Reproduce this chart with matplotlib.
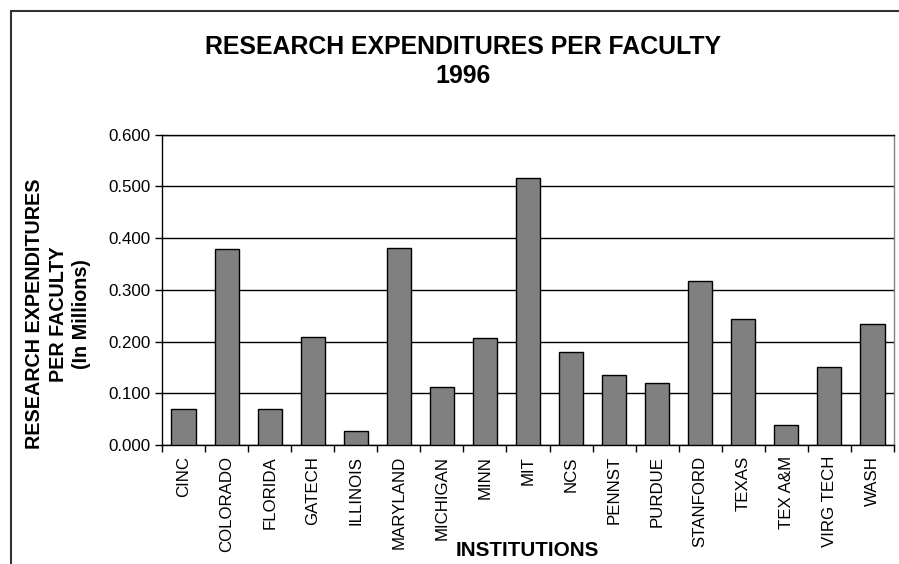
"""Research expenditures per faculty, 1996 (bar chart)."""

import matplotlib

matplotlib.use("Agg")
import matplotlib.pyplot as plt  # noqa: E402
import numpy as np  # noqa: E402
from matplotlib.patches import Rectangle  # noqa: E402

INSTITUTIONS = [
    "CINC", "COLORADO", "FLORIDA", "GATECH", "ILLINOIS", "MARYLAND",
    "MICHIGAN", "MINN", "MIT", "NCS", "PENNST", "PURDUE", "STANFORD",
    "TEXAS", "TEX A&M", "VIRG TECH", "WASH",
]
EXPENDITURES = [
    0.070, 0.379, 0.070, 0.209, 0.028, 0.380,
    0.113, 0.207, 0.516, 0.180, 0.135, 0.120, 0.317,
    0.243, 0.038, 0.151, 0.234,
]
Y_TICKS = [0.0, 0.1, 0.2, 0.3, 0.4, 0.5, 0.6]

BAR_COLOR = "#808080"
FONT = "Liberation Sans"
TICK_SIZE = 12.2

plt.rcParams["font.family"] = [FONT, "DejaVu Sans"]

W, H = 899, 564
fig = plt.figure(figsize=(W / 100, H / 100), dpi=100)
ax = fig.add_axes([162 / W, 1 - 445 / H, 732 / W, 310.5 / H])

x = np.arange(len(INSTITUTIONS))
ax.bar(x, EXPENDITURES, width=0.56, color=BAR_COLOR, edgecolor="black",
       linewidth=1.0, zorder=3)

ax.set_xlim(-0.5, len(INSTITUTIONS) - 0.5)
ax.set_ylim(0, 0.6)
ax.set_yticks(Y_TICKS)
ax.set_yticklabels([f"{v:.3f}" for v in Y_TICKS], fontsize=TICK_SIZE)
ax.yaxis.grid(True, color="black", linewidth=1.0, zorder=0)

# category boundary ticks (unlabelled) and centred labels
ax.set_xticks(np.arange(len(INSTITUTIONS) + 1) - 0.5)
ax.set_xticklabels([])
ax.set_xticks(x, minor=True)
ax.set_xticklabels(INSTITUTIONS, minor=True, rotation=90, fontsize=TICK_SIZE)
ax.tick_params(axis="x", which="minor", length=0, pad=8)
ax.tick_params(axis="x", which="major", length=5, width=1, direction="out")
ax.tick_params(axis="y", length=5, width=1, direction="out", pad=3)

for side in ("left", "bottom", "top"):
    ax.spines[side].set_color("black")
    ax.spines[side].set_linewidth(1.0)
ax.spines["right"].set_color("#808080")
ax.spines["right"].set_linewidth(1.0)

fig.text(463 / W, 1 - 47 / H, "RESEARCH EXPENDITURES PER FACULTY",
         ha="center", va="center", fontsize=17.9, fontweight="bold")
fig.text(463 / W, 1 - 76 / H, "1996",
         ha="center", va="center", fontsize=17.9, fontweight="bold")

fig.text(58 / W, 1 - 314 / H, "RESEARCH EXPENDITURES\nPER FACULTY\n(In Millions)",
         ha="center", va="center", rotation=90, fontsize=14.2,
         fontweight="bold", multialignment="center", linespacing=1.3)

fig.text(527 / W, 1 - 550 / H, "INSTITUTIONS",
         ha="center", va="center", fontsize=14.9, fontweight="bold")

# chart-area border (runs off the right and bottom of the picture)
fig.patches.append(Rectangle((11 / W, -0.1), 1.2, 1 - 11 / H + 0.1,
                             transform=fig.transFigure, fill=False,
                             edgecolor="#333333", linewidth=1.5))

fig.savefig("out.png", dpi=100)
